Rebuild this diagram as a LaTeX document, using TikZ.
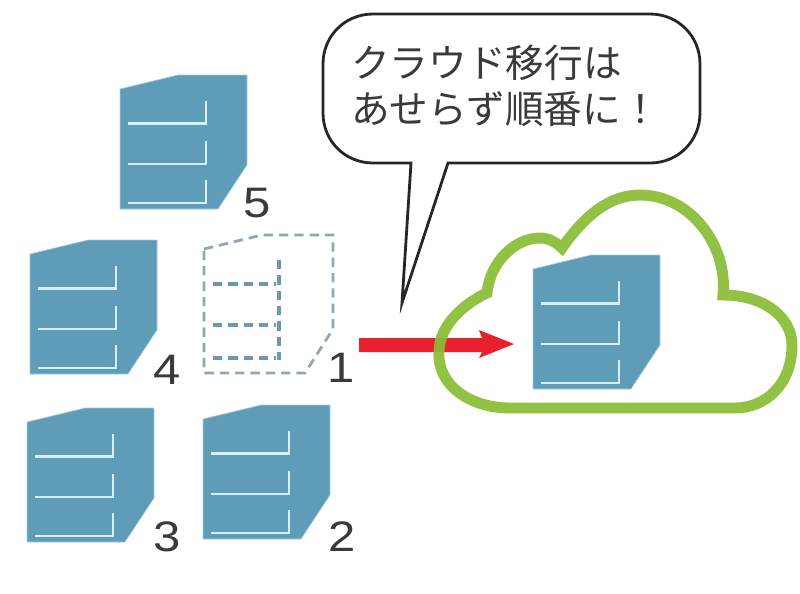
\documentclass[tikz,border=0pt]{standalone}
\usepackage{fontspec}
\setmainfont{Liberation Sans}
\newfontfamily\jpfont{Noto Sans CJK JP}
\definecolor{serverblue}{HTML}{5F9CB8}
\definecolor{shelflight}{HTML}{D6F0FA}
\definecolor{cloudgreen}{HTML}{8ABD36}
\definecolor{arrowred}{HTML}{E8202B}
\definecolor{inkdark}{HTML}{3A3A3C}
\definecolor{ghostgrey}{HTML}{93A7AE}
\definecolor{ghostteal}{HTML}{6A9AAC}
\tikzset{
  serverbody/.style={fill=serverblue,draw=shelflight!60!serverblue,line width=0.5pt},
  shelfline/.style={draw=shelflight,line width=2pt},
  ghostbody/.style={draw=ghostgrey,line width=2.1pt,dash pattern=on 7pt off 4.5pt},
  ghostshelf/.style={draw=ghostteal,line width=2.4pt,dash pattern=on 7pt off 4.5pt},
  numlabel/.style={font=\fontsize{32pt}{32pt}\selectfont,text=inkdark,inner sep=0pt,xscale=1.15},
  bubbletext/.style={font=\jpfont\fontsize{29pt}{34.5pt}\selectfont,text=inkdark,align=left,inner sep=0pt,anchor=north west}
}
% One server cabinet, origin at the top-left of its extent
\newcommand{\servercabinet}[2]{%
  \begin{scope}[shift={(#1,#2)}]
    \fill[serverbody] (0,14) -- (58,0) -- (127,0) -- (127,90) -- (98,134) -- (0,134) -- cycle;
    \draw[shelfline] (8,48.5) -- (86,48.5) -- (86,26);
    \draw[shelfline] (8,89) -- (86,89) -- (86,66);
    \draw[shelfline] (8,128) -- (86,128) -- (86,105);
  \end{scope}}
\begin{document}
\begin{tikzpicture}[x=0.75pt,y=-0.75pt]
\useasboundingbox (0,0) rectangle (800,593);

% Servers still on site
\servercabinet{120}{75}
\servercabinet{30}{240}
\servercabinet{27}{408}
\servercabinet{203}{405}

% Vacated position of server 1
\draw[ghostbody] (204,249) -- (262,235) -- (333,235) -- (333,329) -- (305,373) -- (204,373) -- cycle;
\draw[ghostshelf] (213,284) -- (276,284);
\draw[ghostshelf] (213,325) -- (276,325);
\draw[ghostshelf] (213,358) -- (276,358);
\draw[ghostshelf] (279,260) -- (279,360);

% Migration arrow, passing behind the cloud outline
\coordinate (arrowstart) at (359,338);
\coordinate (arrowtip) at (514,344);
\fill[arrowred] (arrowstart) -- (482,338) -- (479,330) -- (arrowtip) -- (479,358) -- (482,352) -- (359,352) -- cycle;

% Cloud outline
\draw[cloudgreen,line width=8.2pt,line join=miter,opacity=0.93]
  (562,248) .. controls (585,215) and (610,195) .. (640,195)
  .. controls (690,195) and (728,245) .. (723,295)
  .. controls (765,295) and (792,318) .. (792,345)
  .. controls (792,385) and (765,408) .. (735,408)
  -- (510,408)
  .. controls (470,408) and (437,385) .. (439,352)
  .. controls (439,325) and (465,303) .. (487,293)
  .. controls (490,262) and (515,238) .. (540,238)
  .. controls (548,238) and (556,242) .. (562,248) -- cycle;

% Server already migrated
\servercabinet{533}{255}

% Speech bubble with its tail
\coordinate (bubbletip) at (402,303);
\draw[black!85,line width=2.1pt,line join=miter,miter limit=20,fill=white]
  (411,163) -- (373,163)
  .. controls (345,163) and (323,141) .. (323,113) -- (323,64)
  .. controls (323,36) and (345,14) .. (373,14) -- (650,14)
  .. controls (678,14) and (700,36) .. (700,64) -- (700,113)
  .. controls (700,141) and (678,163) .. (650,163) -- (448,163)
  -- (bubbletip) -- cycle;
\node[bubbletext] (bubble) at (351,45) {クラウド移行は\\あせらず順番に！};

% Order numbers
\node[numlabel] (num5) at (257,203) {5};
\node[numlabel] (num4) at (167,370) {4};
\node[numlabel] (num1) at (341,368) {1};
\node[numlabel] (num3) at (167,537) {3};
\node[numlabel] (num2) at (342,537) {2};
\end{tikzpicture}
\end{document}
